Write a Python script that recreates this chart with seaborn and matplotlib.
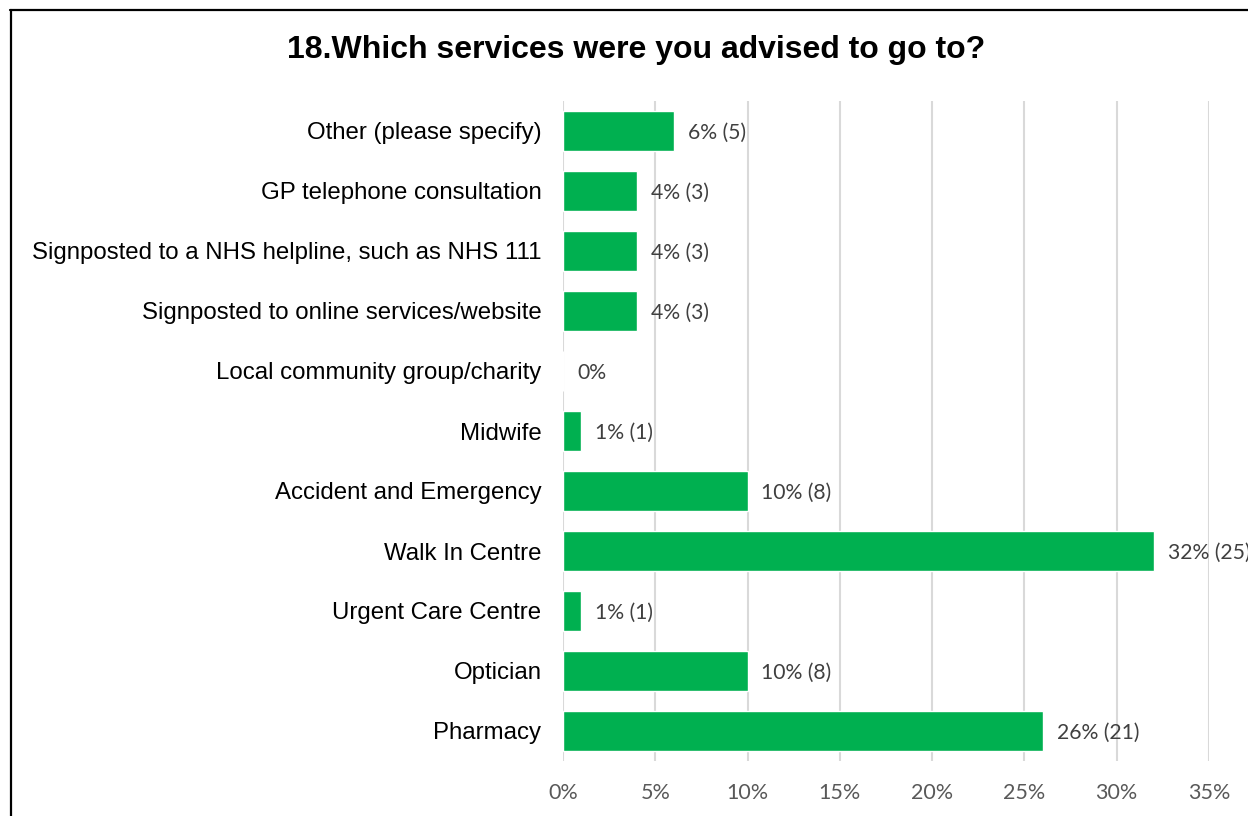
import matplotlib
matplotlib.use("Agg")
import matplotlib.pyplot as plt
from matplotlib.lines import Line2D
from matplotlib.ticker import FuncFormatter, MultipleLocator
import seaborn as sns
import pandas as pd

categories = [
    "Other (please specify)",
    "GP telephone consultation",
    "Signposted to a NHS helpline, such as NHS 111",
    "Signposted to online services/website",
    "Local community group/charity",
    "Midwife",
    "Accident and Emergency",
    "Walk In Centre",
    "Urgent Care Centre",
    "Optician",
    "Pharmacy",
]
percent = [6, 4, 4, 4, 0, 1, 10, 32, 1, 10, 26]
counts = [5, 3, 3, 3, 0, 1, 8, 25, 1, 8, 21]

title = "18.Which services were you advised to go to?"

df = pd.DataFrame({"service": categories, "pct": percent, "n": counts})

sns.set_theme(style="white")
plt.rcParams["font.family"] = ["Liberation Sans", "DejaVu Sans"]

fig = plt.figure(figsize=(12.48, 8.16), dpi=100)
ax = fig.add_axes([563 / 1248, 1 - 761 / 816, 646 / 1248, 660 / 816])

sns.barplot(data=df, x="pct", y="service", orient="h", color="#00B050",
            saturation=1, width=0.68, ax=ax, order=categories)

ax.set_xlim(0, 35)
ax.xaxis.set_major_locator(MultipleLocator(5))
ax.xaxis.set_major_formatter(FuncFormatter(lambda v, _: f"{v:.0f}%"))
ax.grid(axis="x", color="#D9D9D9", linewidth=1.5)
ax.set_axisbelow(True)
for s in ax.spines.values():
    s.set_visible(False)
ax.set_xlabel("")
ax.set_ylabel("")
ax.tick_params(axis="y", length=0, pad=15.5, labelsize=17.3, labelcolor="black")
ax.tick_params(axis="x", length=0, pad=15.5, labelsize=15.5, labelcolor="#595959")
for lab in ax.get_xticklabels():
    lab.set_family(["Lato", "DejaVu Sans"])

for i, (p, n) in enumerate(zip(percent, counts)):
    text = f"{p}%" if n == 0 else f"{p}% ({n})"
    ax.annotate(text, xy=(p, i), xytext=(10, -1.2), textcoords="offset points",
                va="center", ha="left", fontsize=15.2, color="#404040",
                family=["Lato", "DejaVu Sans"], annotation_clip=False)

fig.text(636 / 1248, 1 - 50 / 816, title, ha="center", va="center",
         fontsize=23, fontweight="bold", color="black")

# outer frame
fig.add_artist(Line2D([11 / 1248, 11 / 1248], [1 - 10 / 816, 0],
                      transform=fig.transFigure, color="black", linewidth=1.6))
fig.add_artist(Line2D([10 / 1248, 1], [1 - 10 / 816, 1 - 10 / 816],
                      transform=fig.transFigure, color="black", linewidth=1.6))

fig.savefig("out.png", dpi=100)
